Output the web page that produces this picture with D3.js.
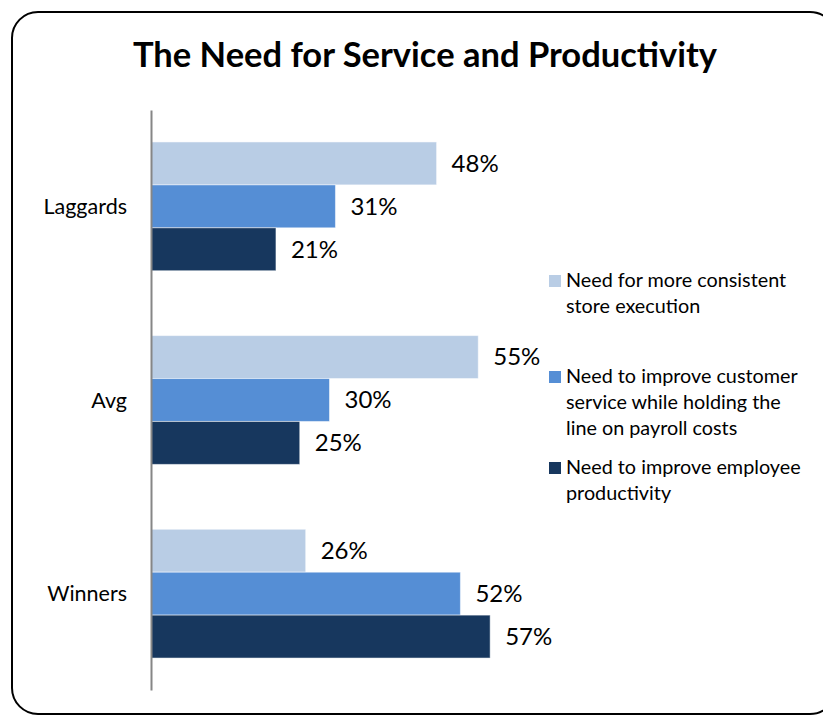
<!DOCTYPE html>
<html>
<head>
<meta charset="utf-8">
<script src="https://cdn.jsdelivr.net/npm/d3@7"></script>
<style>
  html, body { margin: 0; padding: 0; background: #fff; }
  svg { display: block; font-family: Lato, "Open Sans", sans-serif; }
</style>
</head>
<body>
<svg id="chart" width="823" height="715"></svg>
<script>
// Survey groups and the three needs measured for each
const categories = ["Laggards", "Avg", "Winners"];
const seriesKeys = ["consistent", "service", "productivity"];
const seriesLabels = [
  ["Need for more consistent", "store execution"],
  ["Need to improve customer", "service while holding the", "line on payroll costs"],
  ["Need to improve employee", "productivity"]
];
const seriesColors = ["#B9CDE5", "#558ED5", "#17375E"];
// Percentages per group, one array per need
const consistentValues   = [48, 55, 26];
const serviceValues      = [31, 30, 52];
const productivityValues = [21, 25, 57];
const title = "The Need for Service and Productivity";

const seriesValues = [consistentValues, serviceValues, productivityValues];
const rows = categories.map((c, i) => ({
  category: c,
  values: seriesKeys.map((k, j) => ({ key: k, idx: j, value: seriesValues[j][i] }))
}));

const svg = d3.select("#chart");

// Rounded frame around the chart area
svg.append("rect")
  .attr("x", 12).attr("y", 12)
  .attr("width", 824).attr("height", 702)
  .attr("rx", 26).attr("ry", 26)
  .attr("fill", "#fff")
  .attr("stroke", "#000")
  .attr("stroke-width", 2);

svg.append("text")
  .attr("x", 425).attr("y", 67)
  .attr("text-anchor", "middle")
  .attr("font-size", 34.5)
  .attr("font-weight", 700)
  .attr("fill", "#000")
  .text(title);

const x = d3.scaleLinear().domain([0, 60]).range([151, 151 + 60 * 5.95]);
const y0 = d3.scaleBand().domain(categories).range([110, 690])
  .paddingInner(0.335).paddingOuter(0.165);
const y1 = d3.scaleBand().domain(seriesKeys).range([0, y0.bandwidth()]);
const color = d3.scaleOrdinal().domain(seriesKeys).range(seriesColors);

const groups = svg.append("g").selectAll("g")
  .data(rows).join("g")
  .attr("transform", d => `translate(0,${y0(d.category)})`);

groups.selectAll("rect")
  .data(d => d.values).join("rect")
  .attr("x", x(0))
  .attr("y", d => y1(d.key))
  .attr("width", d => x(d.value) - x(0))
  .attr("height", y1.bandwidth())
  .attr("fill", d => color(d.key))
  .attr("stroke", "rgba(255,255,255,0.5)")
  .attr("stroke-width", 1);

groups.selectAll("text")
  .data(d => d.values).join("text")
  .attr("x", d => x(d.value) + 15)
  .attr("y", d => y1(d.key) + y1.bandwidth() / 2)
  .attr("dy", "0.35em")
  .attr("font-size", 24)
  .attr("fill", "#000")
  .text(d => d.value + "%");

// Category axis on the left
const yAxis = d3.axisLeft(y0).tickSize(0).tickPadding(24);
const axisG = svg.append("g")
  .attr("transform", `translate(${x(0)},0)`)
  .call(yAxis);
axisG.select(".domain").attr("stroke", "#868686").attr("stroke-width", 2);
axisG.selectAll(".tick text")
  .attr("font-family", "Lato, 'Open Sans', sans-serif")
  .attr("font-size", 21.5)
  .attr("fill", "#000")
  .attr("dy", "0.35em");

// Legend
const legendTops = [270, 366, 457];
const lineH = 26;
const legend = svg.append("g");
seriesKeys.forEach((k, i) => {
  const g = legend.append("g").attr("transform", `translate(549,${legendTops[i]})`);
  g.append("rect")
    .attr("x", 0).attr("y", 5)
    .attr("width", 12).attr("height", 12)
    .attr("fill", seriesColors[i]);
  const t = g.append("text")
    .attr("x", 17).attr("y", 17)
    .attr("font-size", 19.8)
    .attr("fill", "#000");
  seriesLabels[i].forEach((line, li) => {
    t.append("tspan").attr("x", 17).attr("dy", li === 0 ? 0 : lineH).text(line);
  });
});
</script>
</body>
</html>
